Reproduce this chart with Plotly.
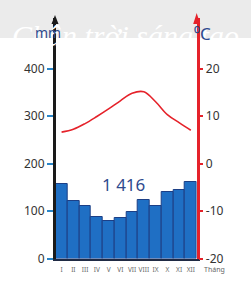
import plotly.graph_objects as go

months = ["I", "II", "III", "IV", "V", "VI", "VII", "VIII", "IX", "X", "XI", "XII"]
rain_mm = [156, 121, 111, 88, 78, 85, 97, 124, 110, 139, 145, 162]
temp_c = [6.6, 7.2, 8.4, 9.9, 11.5, 13.2, 14.8, 15.1, 13.0, 10.3, 8.6, 7.0]
rain_ticks = [0, 100, 200, 300, 400]
temp_ticks = [-20, -10, 0, 10, 20]
temp_tick_text = ["-20", "-10", "0", "10", "20"]
total_label = "1 416"

W, H = 251, 294
px = lambda x: x / W
py = lambda y: 1 - y / H

y_bottom, y_top = 258.5, 18.0
mm_per_px = 100 / 47.5
y_max = (y_bottom - y_top) * mm_per_px
t_max = y_max / 10 - 20

font = "Noto Sans, Lato, sans-serif"

fig = go.Figure()
fig.add_trace(go.Bar(
    x=months, y=rain_mm,
    marker=dict(color="#1f6fc4", line=dict(color="#1c3f86", width=1)),
    yaxis="y", showlegend=False, hoverinfo="skip",
))
fig.add_trace(go.Scatter(
    x=months, y=temp_c, yaxis="y2", mode="lines",
    line=dict(color="#e5222a", width=1.6, shape="spline", smoothing=1.0),
    showlegend=False, hoverinfo="skip",
))

fig.update_layout(
    width=W, height=H,
    margin=dict(l=0, r=0, t=0, b=0, autoexpand=False),
    paper_bgcolor="white", plot_bgcolor="rgba(0,0,0,0)",
    bargap=0,
    xaxis=dict(
        domain=[px(55.7), px(196.7)], range=[-0.5, 11.5],
        showgrid=False, zeroline=False, automargin=False,
        showline=True, linecolor="#1f2a44", linewidth=2,
        ticks="", tickangle=0,
        tickfont=dict(size=6.5, color="#666", family=font),
        ticklabelstandoff=4,
    ),
    yaxis=dict(
        domain=[py(y_bottom), py(y_top)], range=[0, y_max],
        tickvals=rain_ticks, showgrid=False, zeroline=False, automargin=False,
        showline=True, linecolor="#1a1a1a", linewidth=2.5,
        ticks="outside", ticklen=6, tickcolor="#2a86c8", tickwidth=2,
        tickfont=dict(size=12, color="#333", family=font),
    ),
    yaxis2=dict(
        domain=[py(y_bottom), py(y_top)], range=[-20, t_max],
        overlaying="y", side="right", anchor="x", automargin=False,
        tickvals=temp_ticks, ticktext=temp_tick_text,
        showgrid=False, zeroline=False,
        showline=True, linecolor="#e5222a", linewidth=2.5,
        ticks="outside", ticklen=4, tickcolor="#e5222a", tickwidth=2,
        tickfont=dict(size=12, color="#333", family=font),
    ),
    shapes=[
        dict(type="rect", xref="paper", yref="paper", x0=0, x1=1,
             y0=py(38), y1=1, fillcolor="#ebebeb", line_width=0, layer="below"),
        dict(type="path", xref="paper", yref="paper",
             path=f"M {px(51.5)},{py(24)} L {px(58.5)},{py(24)} L {px(55)},{py(15)} Z",
             fillcolor="#1a1a1a", line_width=0),
        dict(type="path", xref="paper", yref="paper",
             path=f"M {px(193.2)},{py(24)} L {px(200.2)},{py(24)} L {px(196.7)},{py(13)} Z",
             fillcolor="#e5222a", line_width=0),
        dict(type="line", xref="paper", yref="paper",
             x0=px(196.7), x1=px(196.7), y0=py(24), y1=py(18),
             line=dict(color="#e5222a", width=2.5)),
    ],
    annotations=[
        dict(text="<i>Chân trời sáng tạo</i>", xref="paper", yref="paper",
             x=0.5, y=py(17), showarrow=False,
             font=dict(size=30, color="white", family="Liberation Serif, serif")),
        dict(text="mm", xref="paper", yref="paper", x=px(33), y=py(21),
             showarrow=False, font=dict(size=14, color="#2e4a8e", family=font)),
        dict(text="⁰C", xref="paper", yref="paper", x=px(213), y=py(20),
             showarrow=False, font=dict(size=17, color="#2e4a8e", family=font)),
        dict(text=total_label, xref="x", yref="paper", x=5.3, y=py(184),
             showarrow=False, font=dict(size=17, color="#2e4a8e", family=font)),
        dict(text="Tháng", xref="paper", yref="paper", x=px(202), y=py(269.5),
             xanchor="left", yanchor="middle", showarrow=False,
             font=dict(size=7, color="#666", family=font)),
    ],
)

fig.write_html("out.html")
